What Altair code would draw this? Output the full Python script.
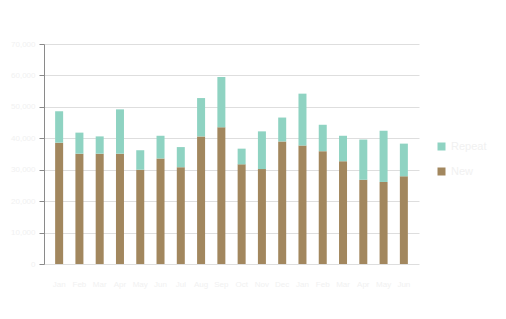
import altair as alt
import pandas as pd

# ---- data ----
categories = ["Jan", "Feb", "Mar", "Apr", "May", "Jun", "Jul", "Aug", "Sep",
              "Oct", "Nov", "Dec", "Jan", "Feb", "Mar", "Apr", "May", "Jun"]
base_values = [38600, 35100, 35100, 35100, 30000, 33600, 30800, 40600, 43500,
               31700, 30200, 39000, 37700, 35900, 32700, 26800, 26100, 27900]
top_values = [10000, 6700, 5500, 14100, 6200, 7200, 6400, 12200, 16000,
              5000, 12000, 7600, 16500, 8400, 8100, 12800, 16300, 10400]
series_names = ["Repeat", "New"]          # top (teal), base (brown)
y_ticks = [0, 10000, 20000, 30000, 40000, 50000, 60000, 70000]
x_ticks = [0, 2, 4, 6, 8, 10, 12, 14, 16, 18]

TEAL = "#8fd3c2"
BROWN = "#a2875e"
FAINT = "#f1f1f1"

rows = []
for i, c in enumerate(categories):
    rows.append({"pos": i + 0.5, "cat": c, "series": series_names[1], "value": base_values[i], "ord": 0})
    rows.append({"pos": i + 0.5, "cat": c, "series": series_names[0], "value": top_values[i], "ord": 1})
df = pd.DataFrame(rows)
lab_df = pd.DataFrame({"pos": [i + 0.5 for i in range(len(categories))], "cat": categories})

W, H = 375, 220

bars = alt.Chart(df).mark_bar(width=8).encode(
    x=alt.X("pos:Q", scale=alt.Scale(domain=[0, 18], nice=False, zero=False),
            axis=alt.Axis(values=x_ticks, labels=False, grid=False, title=None,
                          domainColor="#d9d9d9", tickColor="#d9d9d9", tickSize=5)),
    y=alt.Y("value:Q", stack="zero", scale=alt.Scale(domain=[0, 70000], nice=False),
            axis=alt.Axis(values=y_ticks, format=",d", title=None, gridColor="#dedede",
                          domainColor="#8a8a8a", tickColor="#8a8a8a", tickSize=5,
                          labelColor=FAINT, labelFontSize=8, labelPadding=4)),
    color=alt.Color("series:N",
                    scale=alt.Scale(domain=series_names, range=[TEAL, BROWN]),
                    legend=alt.Legend(title=None, orient="none", legendX=392, legendY=97,
                                      padding=0, symbolType="square", symbolSize=64,
                                      symbolStrokeWidth=0, symbolOpacity=1,
                                      labelColor=FAINT, labelFontSize=11,
                                      rowPadding=13)),
    order=alt.Order("ord:Q"),
)

labels = alt.Chart(lab_df).mark_text(fontSize=8, color=FAINT).encode(
    x=alt.X("pos:Q", axis=None),
    y=alt.value(H + 21),
    text="cat:N",
)

chart = alt.layer(bars, labels).properties(
    width=W, height=H,
    autosize=alt.AutoSizeParams(type="none"),
    padding={"left": 44, "top": 44, "right": 87, "bottom": 55},
).configure_view(stroke=None)

chart.save("out.html", embed_options={"renderer": "svg", "actions": False})
